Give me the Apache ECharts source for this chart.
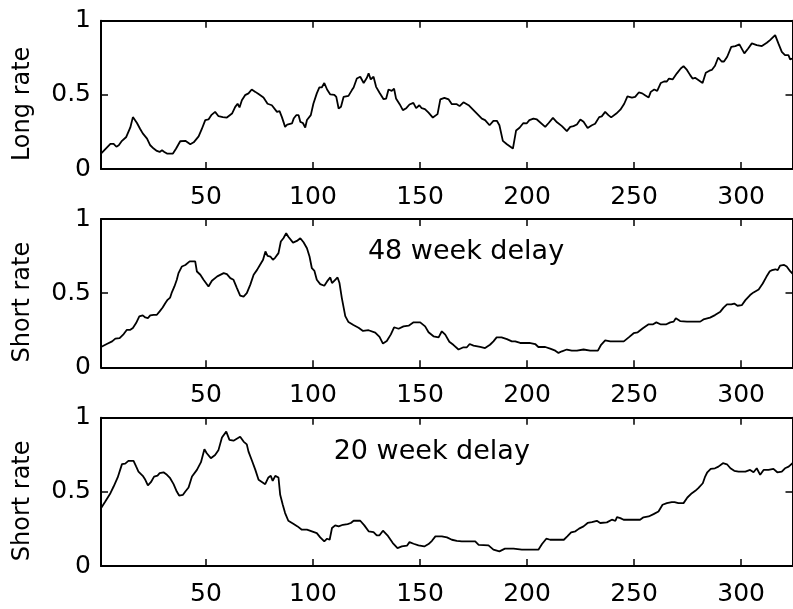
<!DOCTYPE html>
<html>
<head>
<meta charset="utf-8">
<script src="https://cdn.jsdelivr.net/npm/echarts@6/dist/echarts.min.js"></script>
<style>
  html, body { margin: 0; padding: 0; background: #fff; }
  #chart { width: 793px; height: 609px; }
</style>
</head>
<body>
<div id="chart"></div>
<script>
// Weekly interest-rate series, [week, normalised rate]
const longRate = [
  [1,0.104],[5.4,0.17],[6.9,0.17],[8.2,0.15],[9.3,0.16],[10.8,0.19],[12.8,0.216],[14.7,0.28],
  [15.9,0.35],[17.8,0.31],[19.3,0.27],[20.5,0.24],[21.4,0.245],[22.5,0.205],[24,0.16],[25.6,0.138],
  [27.1,0.122],[28.4,0.115],[29.5,0.126],[30.6,0.115],[31.8,0.104],[34.6,0.104],[36.1,0.138],[38,0.187],
  [40.4,0.19],[42.7,0.167],[44.3,0.18],[46.6,0.22],[48.1,0.27],[49.7,0.33],[51.2,0.334],[52.5,0.363],
  [54.3,0.385],[55.9,0.356],[57.9,0.35],[59.8,0.347],[62.2,0.374],[63.7,0.419],[64.8,0.44],[65.7,0.415],
  [66.8,0.464],[68.3,0.498],[69.9,0.51],[71.4,0.536],[73.1,0.52],[74.6,0.505],[75.4,0.498],[76.9,0.482],
  [78.8,0.44],[80.8,0.43],[83.2,0.385],[84.4,0.39],[85.5,0.35],[87,0.284],[88,0.3],[90.2,0.307],
  [91,0.34],[92.2,0.363],[93.3,0.363],[94.1,0.318],[95.3,0.31],[96.4,0.28],[97.2,0.33],[99,0.363],
  [100.2,0.44],[101.8,0.51],[103,0.55],[104.1,0.55],[105.3,0.58],[106.6,0.536],[108.1,0.503],[110,0.5],
  [110.9,0.486],[112,0.408],[113.1,0.42],[114.3,0.486],[116.6,0.493],[118.2,0.532],[119,0.55],[120.5,0.61],
  [122.1,0.622],[123.7,0.58],[125.2,0.615],[126,0.645],[127,0.604],[128.3,0.622],[129.5,0.554],[131.1,0.514],
  [133,0.471],[134.2,0.475],[135.3,0.536],[136.8,0.527],[137.9,0.541],[138.8,0.476],[140.5,0.437],[142,0.397],
  [143.6,0.41],[145.1,0.435],[146.9,0.446],[148.2,0.41],[149.7,0.43],[150.8,0.41],[152.3,0.404],[154,0.38],
  [156,0.347],[158.2,0.37],[159.5,0.469],[161.4,0.48],[163.4,0.469],[164.9,0.437],[167.2,0.437],[168.5,0.424],
  [170.3,0.45],[172.7,0.43],[175.8,0.385],[178.9,0.34],[180.4,0.33],[182.5,0.295],[184.3,0.325],[185.9,0.325],
  [187.1,0.295],[188.7,0.19],[190.6,0.167],[193.4,0.138],[194.9,0.26],[196.5,0.278],[198.3,0.31],[199.8,0.307],
  [201.1,0.33],[203,0.34],[204.6,0.334],[208.5,0.284],[210.1,0.31],[212.1,0.345],[214,0.315],[216.3,0.289],
  [218.6,0.255],[220.2,0.284],[221.7,0.289],[223.3,0.3],[224.9,0.334],[226.4,0.318],[228.3,0.277],[230.3,0.295],
  [231.8,0.305],[233.7,0.35],[234.9,0.355],[236.5,0.385],[238,0.363],[239.3,0.348],[241.7,0.374],[243.6,0.4],
  [245.4,0.44],[246.9,0.49],[249,0.482],[250.5,0.486],[252.2,0.516],[253.8,0.51],[255.3,0.495],[256.8,0.482],
  [257.8,0.52],[259.4,0.536],[260.8,0.527],[262.5,0.58],[264,0.59],[265.3,0.59],[266.3,0.61],[268,0.604],
  [270,0.645],[271.8,0.678],[273.1,0.694],[274.7,0.668],[276.2,0.633],[277.3,0.61],[278.5,0.615],[280,0.6],
  [282,0.58],[283.5,0.649],[285.2,0.663],[286.3,0.668],[287.8,0.696],[289.3,0.752],[290.9,0.725],[292,0.725],
  [293.5,0.757],[295.4,0.824],[297.3,0.829],[299.2,0.84],[301.5,0.78],[303.3,0.813],[305,0.847],[307.3,0.836],
  [309.7,0.829],[312,0.851],[313.5,0.869],[315.9,0.903],[317.4,0.847],[319,0.79],[320.5,0.768],[322.1,0.768],
  [322.9,0.739],[324,0.745]
];

const shortRate48 = [
  [1,0.137],[3.7,0.157],[6.2,0.175],[7.7,0.193],[9.7,0.197],[11.6,0.224],[13.1,0.253],[14.7,0.253],
  [15.9,0.265],[17.4,0.298],[18.9,0.343],[20.5,0.35],[21.7,0.336],[22.9,0.332],[24,0.35],[25.6,0.354],
  [27.1,0.354],[28.4,0.377],[29.8,0.403],[31,0.432],[32.1,0.455],[33.3,0.47],[34.1,0.506],[35.3,0.545],
  [36.4,0.59],[37.2,0.635],[38.8,0.68],[40.4,0.69],[42.4,0.714],[45,0.714],[45.8,0.646],[47.4,0.624],
  [48.9,0.59],[51.2,0.545],[52.8,0.584],[55.3,0.613],[58.3,0.635],[59.8,0.628],[61.4,0.601],[62.9,0.59],
  [64.5,0.534],[66,0.484],[67.6,0.477],[69.1,0.5],[70.7,0.556],[72.3,0.624],[73.9,0.657],[75.1,0.686],
  [76.7,0.725],[77.8,0.781],[78.8,0.752],[80.1,0.747],[81.3,0.725],[82.4,0.74],[83.9,0.77],[85,0.848],
  [86.2,0.87],[87.5,0.904],[88.5,0.88],[90.7,0.841],[92.5,0.852],[94.1,0.87],[95.6,0.843],[97.2,0.803],
  [98.4,0.747],[99.5,0.668],[100.7,0.65],[101.8,0.59],[103.4,0.561],[105.3,0.55],[106.6,0.579],[108.1,0.606],
  [108.9,0.568],[110.4,0.59],[111.5,0.606],[112.4,0.568],[113.5,0.467],[115.1,0.345],[116.6,0.305],[118.9,0.285],
  [121.3,0.267],[123.4,0.245],[126,0.25],[129.1,0.234],[131.1,0.205],[132.7,0.16],[134.5,0.177],[136.4,0.222],
  [137.9,0.27],[140,0.26],[142.3,0.276],[144.7,0.281],[147,0.303],[150.1,0.303],[152.4,0.276],[154,0.236],
  [156.3,0.209],[158.7,0.202],[160.2,0.243],[161.8,0.22],[163.7,0.172],[165.7,0.15],[168,0.12],[170.3,0.135],
  [171.9,0.135],[173.2,0.157],[175,0.146],[178.1,0.137],[180.4,0.13],[182.7,0.152],[184.3,0.175],[185.8,0.202],
  [188.1,0.202],[190.6,0.19],[192.9,0.175],[194.5,0.175],[196.8,0.164],[201.1,0.164],[203.8,0.157],[205.3,0.137],
  [208.5,0.137],[210.8,0.126],[213.2,0.112],[214.7,0.097],[216.3,0.108],[218.6,0.12],[220.9,0.112],[223.3,0.112],
  [226.4,0.12],[229.5,0.112],[233.1,0.112],[234.6,0.152],[236.5,0.181],[238.9,0.175],[242.1,0.175],[245.2,0.175],
  [247.5,0.202],[249.8,0.23],[251.7,0.236],[254.1,0.263],[256.8,0.29],[258.9,0.29],[260.4,0.303],[262.3,0.29],
  [265.1,0.29],[266.9,0.303],[268.5,0.308],[269.5,0.33],[271.5,0.312],[274.7,0.308],[277.8,0.308],[280.9,0.308],
  [282.4,0.323],[285.5,0.335],[287.8,0.352],[290.3,0.375],[291.8,0.402],[293.4,0.424],[295.4,0.424],[296.8,0.43],
  [298.3,0.415],[300.3,0.419],[302,0.453],[304.2,0.487],[305.8,0.505],[308.2,0.525],[310.1,0.565],[311.8,0.61],
  [313.4,0.648],[314.5,0.655],[316,0.661],[317.1,0.655],[318.2,0.686],[320.1,0.69],[321.3,0.68],[322.9,0.648],
  [324,0.632]
];

const shortRate20 = [
  [1,0.39],[3,0.435],[5.4,0.491],[6.9,0.536],[8.8,0.597],[10.8,0.687],[12.3,0.69],[13.8,0.709],
  [16.2,0.709],[17.4,0.671],[18.5,0.637],[20.5,0.608],[21.7,0.581],[22.9,0.543],[24.3,0.565],[25.8,0.603],
  [27.4,0.61],[28.4,0.626],[30.2,0.632],[31.8,0.615],[33.3,0.592],[34.9,0.552],[36.4,0.502],[37.5,0.475],
  [39.3,0.48],[40.4,0.502],[41.9,0.529],[43.5,0.603],[45.8,0.648],[47.7,0.7],[49.3,0.787],[50.4,0.76],
  [52.3,0.727],[54.3,0.749],[55.9,0.783],[57.5,0.866],[59.5,0.906],[61,0.85],[62.9,0.845],[64.8,0.861],
  [66,0.872],[67.6,0.839],[69.1,0.82],[69.9,0.771],[71.4,0.715],[73.1,0.648],[74.6,0.581],[75.4,0.57],
  [77.7,0.552],[79.2,0.597],[80.3,0.608],[81.2,0.574],[82.4,0.608],[83.9,0.597],[84.7,0.48],[85.9,0.413],
  [87,0.357],[88.5,0.305],[91,0.283],[92.8,0.267],[94.8,0.245],[97.2,0.245],[99.5,0.234],[101.8,0.222],
  [103.4,0.193],[105.3,0.166],[106.6,0.184],[107.8,0.177],[108.9,0.256],[110.4,0.274],[112,0.267],[114,0.278],
  [116.2,0.283],[117.7,0.29],[119,0.305],[122.1,0.305],[124,0.274],[126,0.234],[128.3,0.229],[129.8,0.207],
  [131.1,0.207],[132.7,0.238],[134.8,0.207],[137.3,0.155],[139.5,0.121],[141.5,0.132],[143.9,0.137],[145.1,0.161],
  [147,0.15],[149.3,0.139],[152,0.132],[154,0.148],[155.6,0.17],[157.2,0.2],[160.2,0.2],[162.6,0.193],
  [164.9,0.177],[167.2,0.17],[169.5,0.166],[171.9,0.166],[175.8,0.166],[177.4,0.143],[182,0.139],[184.3,0.11],
  [187.1,0.099],[189.7,0.117],[193.7,0.117],[197.6,0.11],[201.1,0.11],[205.3,0.11],[207,0.148],[209,0.184],
  [210.8,0.177],[217.2,0.177],[218.8,0.2],[220.6,0.227],[222.6,0.234],[224.3,0.252],[226.4,0.267],[228.3,0.29],
  [230.3,0.296],[232.6,0.305],[234.2,0.29],[237.3,0.294],[239.6,0.312],[241.3,0.305],[242,0.33],[243.6,0.323],
  [245.1,0.312],[248.2,0.312],[252.8,0.312],[254.4,0.328],[256.8,0.334],[259.1,0.35],[261.4,0.368],[263.3,0.413],
  [265.3,0.424],[267.6,0.431],[268.9,0.431],[270.7,0.424],[273.1,0.424],[274.9,0.462],[277,0.491],[278.6,0.507],
  [280,0.525],[282.1,0.558],[283.2,0.603],[284.2,0.632],[285.8,0.655],[287.8,0.659],[289.4,0.67],[290.2,0.664],
  [291.5,0.693],[293.4,0.686],[295,0.659],[296.8,0.642],[298.8,0.637],[302,0.637],[304.2,0.648],[305.8,0.632],
  [307.3,0.659],[308.9,0.615],[310.5,0.648],[312.8,0.648],[315.1,0.655],[316.9,0.632],[319,0.637],[320.5,0.659],
  [322.2,0.67],[324,0.693]
];

const weekTicks = [50, 100, 150, 200, 250, 300];
const rateTicks = [0, 0.5, 1];
const panelNames = ['Long rate', 'Short rate', 'Short rate'];
const panelSeries = [longRate, shortRate48, shortRate20];
const delayNotes = [null, { text: '48 week delay', at: [171.5, 0.78] }, { text: '20 week delay', at: [155.5, 0.77] }];

const FONT = 'DejaVu Sans';
const INK = '#000';
const panelTops = [20.7, 219, 417.7];
const panelHeight = 148.3;
const weekRange = [1, 324];

const grids = [], xAxes = [], yAxes = [], series = [];

panelSeries.forEach((data, i) => {
  grids.push({ left: 101, top: panelTops[i], width: 691.5, height: panelHeight,
               outerBoundsMode: 'none', containLabel: false });

  const line = { show: true, onZero: false, lineStyle: { color: INK, width: 2 } };
  const tick = { show: true, inside: true, length: 7, lineStyle: { color: INK, width: 1.5 } };

  // bottom axis with labels, top axis closes the box
  xAxes.push({
    type: 'value', gridIndex: i, position: 'bottom', min: weekRange[0], max: weekRange[1],
    axisLine: line,
    axisTick: Object.assign({ customValues: weekTicks }, tick),
    axisLabel: { customValues: weekTicks, color: INK, fontFamily: FONT, fontSize: 25, margin: 16 },
    splitLine: { show: false }
  });
  xAxes.push({
    type: 'value', gridIndex: i, position: 'top', min: weekRange[0], max: weekRange[1],
    axisLine: line,
    axisTick: Object.assign({ customValues: weekTicks }, tick),
    axisLabel: { show: false },
    splitLine: { show: false }
  });

  yAxes.push({
    type: 'value', gridIndex: i, position: 'left', min: 0, max: 1, interval: 0.5,
    axisLine: line, axisTick: tick,
    axisLabel: { color: INK, fontFamily: FONT, fontSize: 25, margin: 10,
                 customValues: rateTicks },
    splitLine: { show: false },
    name: panelNames[i], nameLocation: 'middle', nameGap: 66, nameMoveOverlap: false,
    nameTextStyle: { color: INK, fontFamily: FONT, fontSize: 24, padding: [0, 18, 0, 0] }
  });
  yAxes.push({
    type: 'value', gridIndex: i, position: 'right', min: 0, max: 1, interval: 0.5,
    axisLine: line, axisTick: tick, axisLabel: { show: false }, splitLine: { show: false }
  });

  series.push({
    type: 'line', xAxisIndex: 2 * i, yAxisIndex: 2 * i, data: data,
    symbol: 'none', silent: true,
    lineStyle: { color: INK, width: 1.8 }
  });
});

const chart = echarts.init(document.getElementById('chart'), null, { renderer: 'canvas' });
chart.setOption({
  animation: false,
  backgroundColor: '#fff',
  grid: grids,
  xAxis: xAxes,
  yAxis: yAxes,
  series: series
});

// delay annotations, anchored at a week/rate position inside their panel
const notes = [];
delayNotes.forEach((note, i) => {
  if (!note) return;
  const p = chart.convertToPixel({ xAxisIndex: 2 * i, yAxisIndex: 2 * i }, note.at);
  notes.push({
    type: 'text', x: p[0], y: p[1], silent: true,
    style: { text: note.text, fill: INK, font: '27px "DejaVu Sans"',
             align: 'center', verticalAlign: 'middle' }
  });
});
chart.setOption({ graphic: notes });
</script>
</body>
</html>
